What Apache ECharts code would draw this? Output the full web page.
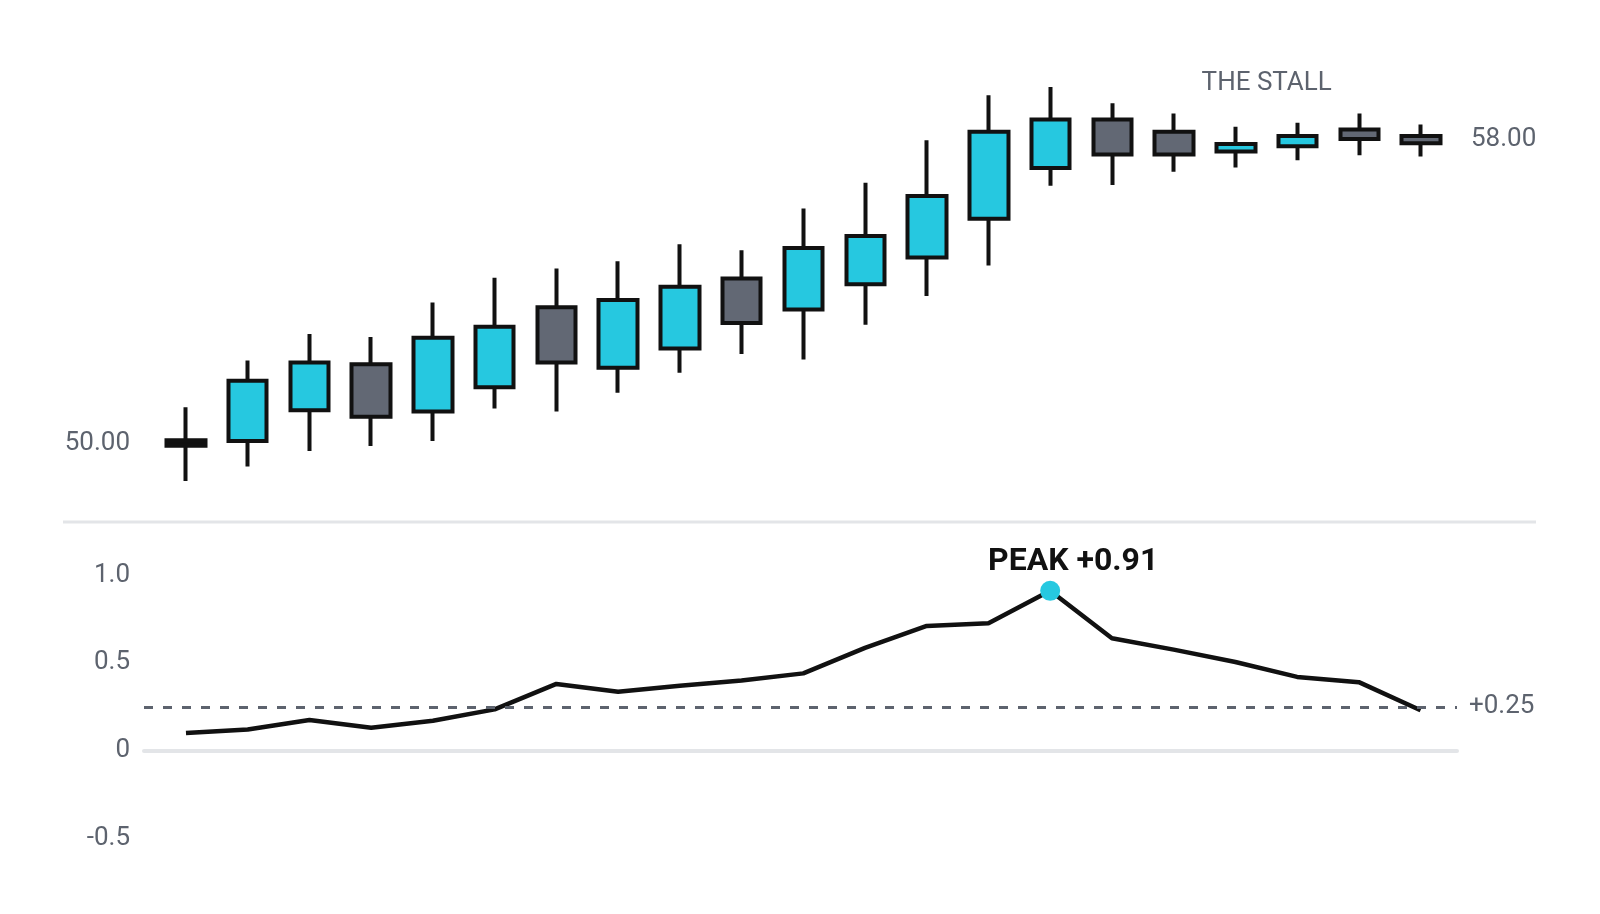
<!DOCTYPE html>
<html>
<head>
    <meta charset="UTF-8">
    <title>The Stall</title>
    <script src="https://cdn.jsdelivr.net/npm/echarts/dist/echarts.min.js"></script>
    <style>
        html, body { margin: 0; padding: 0; background: #fff; }
        #main { width: 1600px; height: 914px; }
    </style>
</head>
<body>
    <div id="main"></div>

    <script>
        // ---- data ----
        const days = ['1', '2', '3', '4', '5', '6', '7', '8', '9', '10', '11',
                      '12', '13', '14', '15', '16', '17', '18', '19', '20', '21'];

        // [open, close, low, high]
        const candles = [
            [49.93, 50.07, 49.00, 50.94],
            [50.05, 51.64, 49.38, 52.17],
            [50.86, 52.12, 49.79, 52.87],
            [52.07, 50.69, 49.92, 52.79],
            [50.83, 52.77, 50.05, 53.70],
            [51.47, 53.06, 50.91, 54.35],
            [53.57, 52.12, 50.83, 54.59],
            [51.98, 53.76, 51.32, 54.78],
            [52.49, 54.11, 51.85, 55.23],
            [54.33, 53.16, 52.34, 55.07],
            [53.51, 55.13, 52.20, 56.17],
            [54.18, 55.45, 53.11, 56.85],
            [54.88, 56.50, 53.87, 57.97],
            [55.90, 58.19, 54.67, 59.15],
            [57.24, 58.51, 56.77, 59.37],
            [58.51, 57.59, 56.79, 58.94],
            [58.19, 57.59, 57.14, 58.67],
            [57.67, 57.87, 57.25, 58.32],
            [57.81, 58.08, 57.44, 58.43],
            [58.25, 58.00, 57.57, 58.67],
            [58.08, 57.89, 57.54, 58.38]
        ];
        const dojiIndex = 0;

        const momentum = [0.10, 0.12, 0.175, 0.13, 0.17, 0.235, 0.38, 0.335, 0.37, 0.40, 0.44,
                          0.585, 0.71, 0.725, 0.91, 0.64, 0.575, 0.505, 0.42, 0.39, 0.23];

        const baseline = 0.25;
        const stallFrom = 15;   // first stalled candle
        const stallTo = 20;

        // ---- style ----
        const cyan = '#26C8E0';
        const slate = '#626874';
        const ink = '#111111';
        const grey = '#5d636e';
        const rule = '#e3e5e8';
        const font = 'Roboto';

        const chart = echarts.init(document.getElementById('main'));

        // the opening doji is drawn as a solid black bar
        const candleData = candles.map((c, i) => {
            if (i === dojiIndex) {
                return { value: c, itemStyle: { color: ink, color0: ink, borderColor: ink, borderColor0: ink } };
            }
            return c;
        });

        const option = {
            animation: false,
            backgroundColor: '#fff',
            textStyle: { fontFamily: font },
            graphic: [{
                type: 'line',
                shape: { x1: 63, y1: 522, x2: 1536, y2: 522 },
                style: { stroke: rule, lineWidth: 3 },
                silent: true
            }],
            grid: [
                { left: 155, right: 148, top: 63, height: 456 },
                { left: 144, right: 143, top: 575, height: 263.5 }
            ],
            xAxis: [
                {
                    type: 'category',
                    gridIndex: 0,
                    data: days,
                    boundaryGap: true,
                    axisLine: { show: false },
                    axisTick: { show: false },
                    axisLabel: { show: false },
                    splitLine: { show: false }
                },
                {
                    type: 'value',
                    gridIndex: 1,
                    min: -0.68,
                    max: 20.59,
                    axisLine: { show: true, onZero: true, lineStyle: { color: rule, width: 4 } },
                    axisTick: { show: false },
                    axisLabel: { show: false },
                    splitLine: { show: false }
                }
            ],
            yAxis: [
                {
                    type: 'value',
                    gridIndex: 0,
                    position: 'left',
                    min: 48,
                    max: 60,
                    interval: 2,
                    axisLine: { show: false },
                    axisTick: { show: false },
                    splitLine: { show: false },
                    axisLabel: {
                        margin: 25,
                        color: grey,
                        fontSize: 26,
                        fontFamily: font,
                        formatter: v => (v === 50 ? v.toFixed(2) : '')
                    }
                },
                {
                    type: 'value',
                    gridIndex: 0,
                    position: 'right',
                    min: 48,
                    max: 60,
                    interval: 2,
                    axisLine: { show: false },
                    axisTick: { show: false },
                    splitLine: { show: false },
                    axisLabel: {
                        margin: 19,
                        color: grey,
                        fontSize: 26,
                        fontFamily: font,
                        formatter: v => (v === 58 ? v.toFixed(2) : '')
                    }
                },
                {
                    type: 'value',
                    gridIndex: 1,
                    min: -0.5,
                    max: 1.0,
                    interval: 0.5,
                    axisLine: { show: false },
                    axisTick: { show: false },
                    splitLine: { show: false },
                    axisLabel: {
                        margin: 14,
                        color: grey,
                        fontSize: 26,
                        fontFamily: font,
                        formatter: v => (v === 0 ? '0' : v.toFixed(1))
                    }
                }
            ],
            series: [
                {
                    name: 'price',
                    type: 'candlestick',
                    xAxisIndex: 0,
                    yAxisIndex: 0,
                    barWidth: 39,
                    data: candleData,
                    itemStyle: {
                        color: cyan,
                        color0: slate,
                        borderColor: ink,
                        borderColor0: ink,
                        borderColorDoji: ink,
                        borderWidth: 4
                    },
                    markArea: {
                        silent: true,
                        itemStyle: { color: 'rgba(0,0,0,0)' },
                        label: {
                            show: true,
                            position: 'insideTop',
                            distance: 7,
                            color: grey,
                            fontSize: 26,
                            fontFamily: font,
                            fontWeight: 'normal'
                        },
                        data: [[
                            { name: 'THE STALL', xAxis: days[stallFrom] },
                            { xAxis: days[stallTo] }
                        ]]
                    }
                },
                {
                    name: 'momentum',
                    type: 'line',
                    xAxisIndex: 1,
                    yAxisIndex: 2,
                    data: momentum.map((v, i) => [i, v]),
                    symbol: 'none',
                    lineStyle: { color: ink, width: 4.5 },
                    markLine: {
                        silent: true,
                        symbol: ['none', 'none'],
                        lineStyle: { color: grey, type: [9, 10], width: 3 },
                        label: {
                            position: 'end',
                            distance: 12,
                            color: grey,
                            fontSize: 26,
                            fontFamily: font,
                            formatter: () => '+' + baseline.toFixed(2)
                        },
                        data: [{ yAxis: baseline }]
                    },
                    markPoint: {
                        silent: true,
                        symbol: 'circle',
                        symbolSize: 20,
                        itemStyle: { color: cyan },
                        label: {
                            show: true,
                            position: 'top',
                            distance: 3,
                            offset: [23, 0],
                            color: ink,
                            fontSize: 32,
                            fontWeight: 'bold',
                            fontFamily: font,
                            formatter: p => 'PEAK +' + p.value.toFixed(2)
                        },
                        data: [{ type: 'max' }]
                    }
                }
            ]
        };

        chart.setOption(option);
    </script>
</body>
</html>
